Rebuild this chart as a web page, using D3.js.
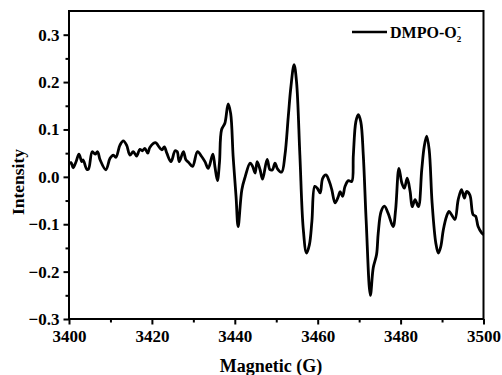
<!DOCTYPE html>
<html><head><meta charset="utf-8">
<script src="https://cdn.jsdelivr.net/npm/d3@7"></script>
<style>body{margin:0;background:#fff}svg{display:block}</style>
</head><body>
<script>
const fieldG = [3400.0,3400.5,3401.0,3401.7,3402.4,3403.1,3403.4,3404.3,3404.7,3405.6,3406.3,3406.9,3407.5,3408.9,3409.9,3410.7,3411.3,3412.3,3413.1,3413.9,3414.7,3415.5,3416.3,3417.1,3417.7,3418.3,3419.0,3419.5,3420.9,3421.5,3422.4,3423.0,3423.6,3424.6,3425.6,3426.1,3426.6,3427.6,3428.2,3428.9,3429.8,3431.0,3432.0,3432.8,3433.6,3434.7,3435.2,3435.8,3436.3,3436.8,3437.6,3438.4,3439.0,3439.6,3440.3,3440.8,3441.7,3442.5,3443.7,3444.3,3444.9,3445.4,3446.1,3446.7,3447.8,3448.5,3449.1,3449.7,3450.3,3451.3,3452.1,3452.9,3453.5,3454.3,3454.9,3455.7,3456.5,3457.3,3458.0,3458.6,3459.3,3459.9,3460.6,3461.2,3462.0,3462.8,3463.4,3464.2,3465.0,3465.4,3466.0,3466.6,3467.4,3468.2,3468.6,3469.2,3469.8,3470.4,3471.0,3471.7,3472.7,3473.4,3474.2,3474.6,3475.3,3476.1,3477.0,3478.2,3478.8,3479.6,3480.3,3480.9,3481.6,3482.3,3482.8,3483.5,3484.3,3485.1,3485.7,3486.3,3486.9,3487.6,3488.5,3489.1,3489.7,3490.3,3491.1,3491.7,3492.3,3493.1,3493.9,3494.7,3495.4,3495.9,3496.7,3497.5,3498.1,3498.7,3499.6,3500.0];
const intensity = [0.028,0.030,0.019,0.032,0.048,0.032,0.036,0.016,0.016,0.053,0.048,0.053,0.036,0.015,0.039,0.046,0.041,0.067,0.076,0.067,0.046,0.053,0.044,0.058,0.055,0.060,0.050,0.062,0.072,0.066,0.057,0.063,0.050,0.032,0.055,0.053,0.032,0.053,0.036,0.030,0.022,0.053,0.043,0.032,0.018,0.048,0.022,-0.008,0.030,0.099,0.113,0.154,0.134,0.043,-0.041,-0.105,-0.027,0.000,0.029,0.022,0.008,0.032,0.015,-0.005,0.037,0.015,0.015,0.029,0.017,0.010,0.046,0.127,0.187,0.237,0.200,0.046,-0.108,-0.161,-0.143,-0.094,-0.020,-0.024,-0.034,-0.003,0.004,-0.010,-0.027,-0.055,-0.041,-0.031,-0.041,-0.020,-0.008,-0.010,0.046,0.116,0.131,0.116,0.046,-0.094,-0.250,-0.192,-0.164,-0.119,-0.073,-0.062,-0.077,-0.105,-0.069,0.018,-0.013,-0.024,-0.003,-0.031,-0.063,-0.048,-0.063,0.015,0.064,0.086,0.057,-0.055,-0.140,-0.161,-0.147,-0.112,-0.083,-0.073,-0.080,-0.090,-0.048,-0.027,-0.045,-0.031,-0.038,-0.080,-0.083,-0.105,-0.119,-0.122];
const xTicks = [3400,3420,3440,3460,3480,3500];
const yTicks = [-0.3,-0.2,-0.1,0.0,0.1,0.2,0.3];
const xMinor = [3410,3430,3450,3470,3490];
const yMinor = [-0.25,-0.15,-0.05,0.05,0.15,0.25];
const seriesName = "DMPO-O";

const W=502,H=375, L=69, R=483.5, T=11, B=319;
const svg = d3.select("body").append("svg").attr("width",W).attr("height",H);
const x = d3.scaleLinear().domain([3400,3500]).range([L,R]);
const y = d3.scaleLinear().domain([-0.3,0.35]).range([B,T]);
const font = "'Liberation Serif','Times New Roman',serif";

// frame
svg.append("rect").attr("x",L).attr("y",T).attr("width",R-L).attr("height",B-T)
  .attr("fill","none").attr("stroke","#000").attr("stroke-width",2);

// x axis
const gx = svg.append("g").attr("transform",`translate(0,${B})`)
  .call(d3.axisBottom(x).tickValues(xTicks).tickFormat(d3.format("d")).tickSize(5.5).tickPadding(5));
gx.select(".domain").remove();
gx.selectAll("line").attr("stroke-width",2);
gx.selectAll("text").attr("font-family",font).attr("font-weight","bold").attr("font-size",17).attr("fill","#000");
const gxm = svg.append("g").attr("transform",`translate(0,${B})`)
  .call(d3.axisBottom(x).tickValues(xMinor).tickFormat("").tickSize(3.5));
gxm.select(".domain").remove();
gxm.selectAll("line").attr("stroke-width",2);

// y axis
const gy = svg.append("g").attr("transform",`translate(${L},0)`)
  .call(d3.axisLeft(y).tickValues(yTicks).tickFormat(d3.format(".1f")).tickSize(5.5).tickPadding(4));
gy.select(".domain").remove();
gy.selectAll("line").attr("stroke-width",2);
gy.selectAll("text").attr("font-family",font).attr("font-weight","bold").attr("font-size",17).attr("fill","#000");
const gym = svg.append("g").attr("transform",`translate(${L},0)`)
  .call(d3.axisLeft(y).tickValues(yMinor).tickFormat("").tickSize(3.5));
gym.select(".domain").remove();
gym.selectAll("line").attr("stroke-width",2);

// titles
svg.append("text").attr("x",271).attr("y",372).attr("text-anchor","middle")
  .attr("font-family",font).attr("font-weight","bold").attr("font-size",18).text("Magnetic (G)");
svg.append("text").attr("transform",`translate(24,182) rotate(-90)`).attr("text-anchor","middle")
  .attr("font-family",font).attr("font-weight","bold").attr("font-size",17.5).text("Intensity");

// line
const data = fieldG.map((g,i)=>[g,intensity[i]]);
svg.append("path").datum(data)
  .attr("d", d3.line().x(d=>x(d[0])).y(d=>y(d[1])).curve(d3.curveCatmullRom.alpha(0.5)))
  .attr("fill","none").attr("stroke","#000").attr("stroke-width",2.8).attr("stroke-linejoin","round");

// legend
svg.append("line").attr("x1",352).attr("x2",387).attr("y1",32).attr("y2",32).attr("stroke","#000").attr("stroke-width",2.6);
const lt = svg.append("text").attr("x",390).attr("y",37.5).attr("font-family",font).attr("font-weight","bold").attr("font-size",16);
lt.append("tspan").text(seriesName);
lt.append("tspan").attr("font-size",9).attr("dy",4).text("2");
lt.append("tspan").attr("font-size",10).attr("dx",-4).attr("dy",-12).text("-");
</script>
</body></html>
